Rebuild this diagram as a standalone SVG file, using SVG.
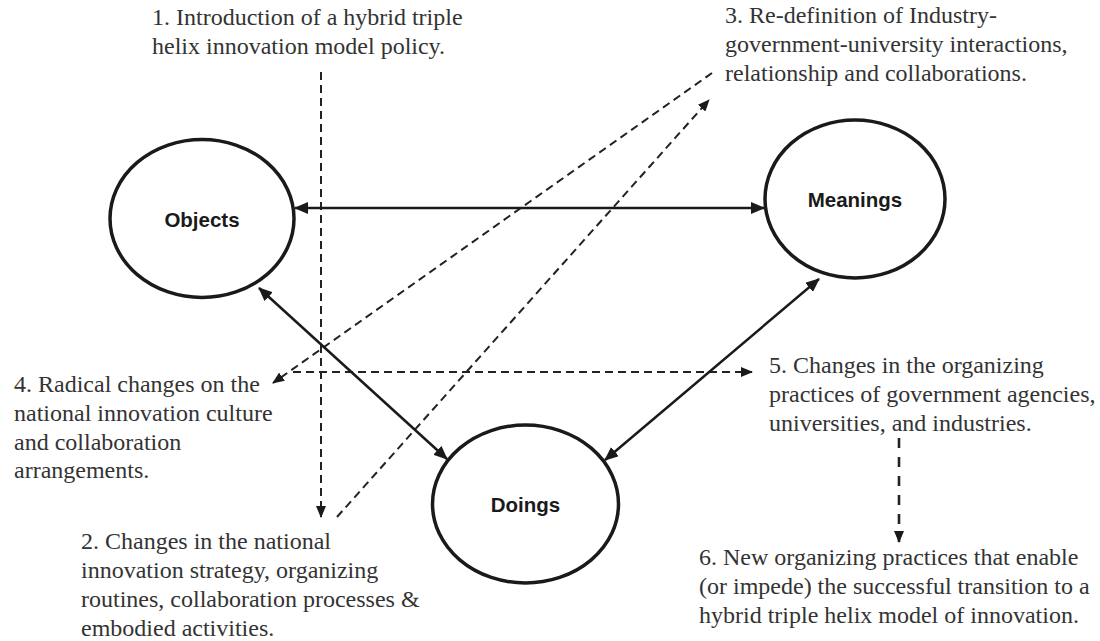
<svg xmlns="http://www.w3.org/2000/svg" width="1100" height="641" viewBox="0 0 1100 641">
<style>
.node{fill:#fff;stroke:#1a1a1a;stroke-width:3.5}
.lbl{font-family:"Liberation Sans",Arial,sans-serif;font-weight:bold;font-size:20.5px;fill:#1a1a1a;text-anchor:middle}
.txt{font-family:"Liberation Serif","Times New Roman",serif;font-size:24px;fill:#333}
.solid{stroke:#1a1a1a;stroke-width:2.5;fill:none}
.dash{stroke:#222;stroke-width:2;fill:none;stroke-dasharray:8 5}
.dash2{stroke:#222;stroke-width:2.6;fill:none;stroke-dasharray:10 9}
</style>
<defs>
<marker id="ah" viewBox="0 0 14 12" refX="13" refY="6" markerWidth="14" markerHeight="12" markerUnits="userSpaceOnUse" orient="auto-start-reverse">
<path d="M0,0 L14,6 L0,12 z" fill="#1a1a1a"/>
</marker>
<marker id="dh" viewBox="0 0 12 10" refX="11" refY="5" markerWidth="12" markerHeight="10" markerUnits="userSpaceOnUse" orient="auto">
<path d="M0,0 L12,5 L0,10 z" fill="#1a1a1a"/>
</marker>
</defs>
<rect width="1100" height="641" fill="#fff"/>
<g id="connectors">
<line class="dash" x1="321" y1="72" x2="321" y2="517" marker-end="url(#dh)"/>
<line class="dash" x1="712" y1="73" x2="273" y2="383" marker-end="url(#dh)"/>
<line class="dash" x1="337" y1="517" x2="709" y2="100" marker-end="url(#dh)"/>
<line class="dash" x1="293" y1="372" x2="752" y2="372" marker-end="url(#dh)"/>
<line class="dash2" x1="899" y1="438" x2="899" y2="542" marker-end="url(#dh)"/>
<line class="solid" x1="295" y1="208" x2="764" y2="208" marker-start="url(#ah)" marker-end="url(#ah)"/>
<line class="solid" x1="259" y1="288" x2="447" y2="459" marker-start="url(#ah)" marker-end="url(#ah)"/>
<line class="solid" x1="605" y1="460" x2="819" y2="279" marker-start="url(#ah)" marker-end="url(#ah)"/>
</g>
<g id="objects">
<ellipse class="node" cx="202" cy="218.5" rx="92" ry="79"/>
<text class="lbl" x="202" y="227">Objects</text>
</g>
<g id="meanings">
<ellipse class="node" cx="855" cy="199" rx="90" ry="79"/>
<text class="lbl" x="855" y="207">Meanings</text>
</g>
<g id="doings">
<ellipse class="node" cx="525.5" cy="504" rx="93" ry="79"/>
<text class="lbl" x="525.5" y="512">Doings</text>
</g>
<g id="note1">
<text class="txt" x="152" y="25">1. Introduction of a hybrid triple</text>
<text class="txt" x="152" y="53.5">helix innovation model policy.</text>
</g>
<g id="note3">
<text class="txt" x="725" y="23">3. Re-definition of Industry-</text>
<text class="txt" x="725" y="52">government-university interactions,</text>
<text class="txt" x="725" y="81">relationship and collaborations.</text>
</g>
<g id="note4">
<text class="txt" x="14" y="392">4. Radical changes on the</text>
<text class="txt" x="14" y="421">national innovation culture</text>
<text class="txt" x="14" y="450">and collaboration</text>
<text class="txt" x="14" y="478">arrangements.</text>
</g>
<g id="note2">
<text class="txt" x="81" y="549">2. Changes in the national</text>
<text class="txt" x="81" y="578">innovation strategy, organizing</text>
<text class="txt" x="81" y="607">routines, collaboration processes &amp;</text>
<text class="txt" x="81" y="636">embodied activities.</text>
</g>
<g id="note5">
<text class="txt" x="769" y="373">5. Changes in the organizing</text>
<text class="txt" x="769" y="402">practices of government agencies,</text>
<text class="txt" x="769" y="431">universities, and industries.</text>
</g>
<g id="note6">
<text class="txt" x="699" y="565">6. New organizing practices that enable</text>
<text class="txt" x="699" y="594">(or impede) the successful transition to a</text>
<text class="txt" x="699" y="623">hybrid triple helix model of innovation.</text>
</g>
</svg>
